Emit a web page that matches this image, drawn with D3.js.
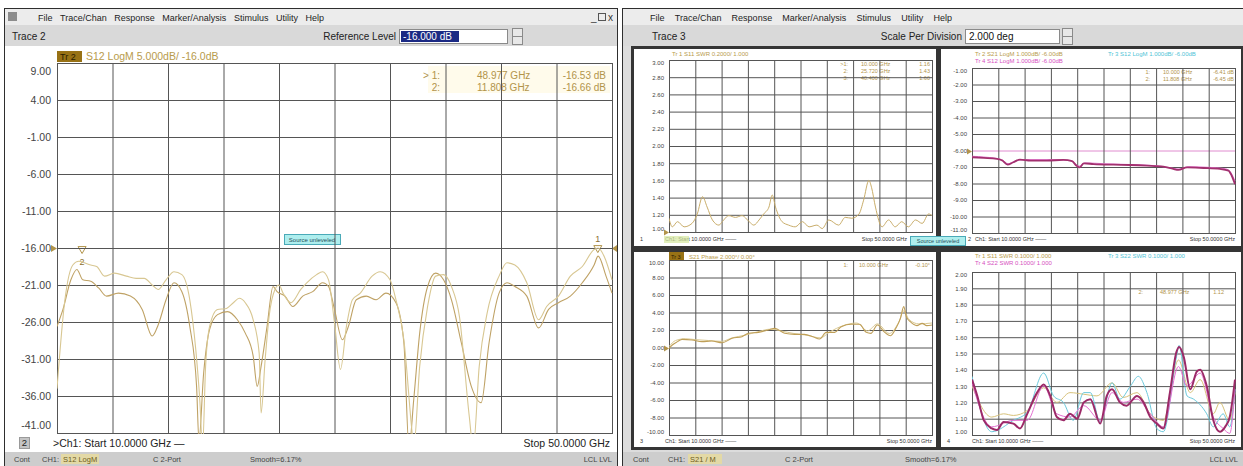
<!DOCTYPE html>
<html>
<head>
<meta charset="utf-8">
<title>VNA screens</title>
<script src="https://cdn.jsdelivr.net/npm/d3@7/dist/d3.min.js"></script>
<style>
  body { margin: 0; background: #ffffff; overflow: hidden; }
</style>
</head>
<body>
<script>
// ---------------- data ----------------
const menuItems = ["File", "Trace/Chan", "Response", "Marker/Analysis", "Stimulus", "Utility", "Help"];
const freqGrid = [10, 14, 18, 22, 26, 30, 34, 38, 42, 46, 50];   // GHz, 4 GHz per division

// left window : S12 LogM 5 dB/div, ref -16 dB, two sweeps [GHz, dB]
const s12Ticks = [9, 4, -1, -6, -11, -16, -21, -26, -31, -36, -41];
const s12SweepA = [[10.0,-35.0],[10.57,-23.0],[11.14,-18.3],[11.57,-17.8],[12.43,-18.3],[12.86,-18.5],[13.43,-19.8],
  [14.14,-19.4],[15.0,-19.8],[15.71,-20.1],[16.29,-20.1],[16.86,-21.0],[17.29,-21.6],[17.86,-20.3],[18.43,-19.2],
  [19.0,-19.6],[19.57,-23.0],[20.0,-29.7],[20.29,-36.5],[20.49,-43.0],[20.71,-32.0],[21.0,-26.6],[21.57,-24.3],
  [22.14,-24.2],[22.71,-23.4],[23.14,-22.8],[23.57,-23.4],[24.14,-25.7],[24.57,-30.2],[24.71,-38.3],[25.0,-31.1],
  [25.29,-25.2],[25.71,-21.6],[26.0,-21.0],[26.29,-22.1],[26.86,-23.4],[27.57,-21.6],[28.0,-20.7],[28.71,-19.6],
  [29.14,-19.2],[29.57,-20.3],[30.0,-26.1],[30.43,-32.4],[30.86,-26.6],[31.29,-23.0],[31.86,-22.1],[32.71,-19.8],
  [33.29,-19.2],[34.0,-20.3],[34.43,-23.0],[35.0,-28.4],[35.57,-40.5],[35.71,-43.0],[36.14,-32.0],[36.71,-23.9],
  [37.29,-19.8],[37.86,-19.6],[38.43,-21.2],[39.0,-25.2],[39.71,-38.7],[40.0,-43.0],[40.43,-32.0],[41.0,-24.8],
  [41.86,-19.8],[42.43,-18.0],[43.0,-18.3],[43.86,-20.7],[44.71,-25.7],[45.29,-23.9],[46.14,-22.5],[47.0,-19.8],
  [47.86,-18.5],[48.71,-16.2],[49.0,-16.0],[49.43,-17.1],[50.0,-20.3]];
const s12SweepB = [[10.0,-26.6],[10.43,-24.3],[11.0,-20.3],[11.43,-18.9],[11.86,-20.3],[12.43,-20.5],[13.0,-21.4],
  [13.57,-22.5],[14.43,-22.1],[15.29,-22.5],[16.14,-24.3],[16.86,-27.9],[17.29,-26.4],[17.86,-23.0],[18.43,-20.7],
  [19.0,-21.9],[19.57,-26.6],[20.06,-34.7],[20.23,-42.0],[20.57,-32.9],[21.0,-27.0],[21.57,-25.0],[22.29,-24.6],
  [23.0,-25.7],[23.57,-27.5],[24.14,-30.6],[24.43,-34.7],[24.71,-32.0],[25.14,-26.6],[25.57,-21.2],[25.86,-21.9],
  [26.43,-22.5],[27.0,-23.9],[27.71,-22.5],[28.43,-21.9],[29.14,-20.7],[29.57,-21.2],[30.0,-24.3],[30.57,-28.4],
  [31.0,-26.6],[31.57,-23.0],[32.29,-22.5],[33.0,-23.0],[33.71,-22.1],[34.43,-23.4],[35.0,-28.8],[35.37,-43.0],
  [35.71,-36.5],[36.14,-27.5],[36.71,-21.2],[37.29,-19.4],[37.86,-20.3],[38.43,-23.0],[39.14,-28.8],[39.86,-34.7],
  [40.57,-36.9],[41.14,-28.8],[41.86,-22.1],[42.43,-20.7],[43.0,-21.2],[43.86,-22.5],[44.71,-26.8],[45.43,-24.3],
  [46.14,-23.4],[47.0,-22.5],[47.86,-20.7],[48.71,-18.3],[49.0,-17.1],[49.57,-19.8],[50.0,-22.1]];
const s12Markers = [
  {id: "1", active: true, freq: 48.977, value: -16.53},
  {id: "2", active: false, freq: 11.808, value: -16.66}
];

// right window, top-left : S11 SWR 0.2/div
const swr11Ticks = [3.0, 2.8, 2.6, 2.4, 2.2, 2.0, 1.8, 1.6, 1.4, 1.2, 1.0];
const swr11Sweep = [[10.0,1.16],[10.5,1.06],[11.3,1.12],[12.3,1.06],[13.5,1.10],[14.3,1.21],[15.1,1.41],[15.8,1.29],
  [16.6,1.14],[17.6,1.08],[18.1,1.12],[19.1,1.19],[20.1,1.17],[21.1,1.19],[22.2,1.12],[22.9,1.08],[23.7,1.14],
  [24.4,1.21],[25.2,1.29],[25.7,1.43],[26.2,1.29],[27.2,1.12],[28.2,1.08],[29.2,1.06],[30.3,1.12],[31.3,1.06],
  [32.5,1.08],[33.3,1.04],[34.3,1.14],[35.8,1.08],[36.8,1.17],[37.8,1.16],[38.9,1.21],[39.6,1.37],[40.4,1.60],
  [40.8,1.52],[41.4,1.29],[42.4,1.06],[43.4,1.14],[44.4,1.06],[45.4,1.12],[46.4,1.06],[47.5,1.14],[48.5,1.10],
  [49.5,1.21],[50.0,1.19]];
const swr11Rows = [[">1:", "10.000 GHz", "1.16"], ["2:", "25.720 GHz", "1.43"], ["3:", "40.400 GHz", "1.60"]];

// right window, top-right : S21 / S12 LogM 1 dB/div, ref -6 dB
const s21Ticks = [-1, -2, -3, -4, -5, -6, -7, -8, -9, -10, -11];
const s21Sweep = [[10.0,-6.41],[11.8,-6.45],[13.8,-6.51],[14.6,-6.61],[15.4,-6.86],[16.3,-6.71],[17.3,-6.55],
  [18.9,-6.61],[21.4,-6.61],[23.9,-6.57],[25.2,-6.65],[25.9,-6.92],[26.4,-7.02],[27.0,-6.78],[28.5,-6.82],
  [31.5,-6.86],[34.1,-6.88],[36.6,-6.92],[39.1,-6.98],[40.6,-7.12],[41.4,-7.18],[42.7,-7.02],[45.2,-7.06],
  [47.7,-7.12],[49.0,-7.22],[49.5,-7.53],[50.0,-8.04]];
const s12Sweep = [[10.0,-6.35],[12.0,-6.40],[14.5,-6.55],[15.5,-6.80],[16.5,-6.65],[18.0,-6.55],[22.0,-6.55],
  [25.0,-6.60],[26.3,-6.95],[27.2,-6.75],[30.0,-6.80],[34.0,-6.85],[38.0,-6.92],[40.6,-7.08],[41.5,-7.12],
  [43.0,-6.98],[46.0,-7.02],[48.5,-7.10],[49.4,-7.35],[50.0,-7.85]];
const s21Rows = [["1:", "10.000 GHz", "-6.41 dB"], ["2:", "11.808 GHz", "-6.45 dB"]];

// right window, bottom-left : S21 Phase 2 deg/div, ref 0
const phaseTicks = [10, 8, 6, 4, 2, 0, -2, -4, -6, -8, -10];
const phaseSweepA = [[10.0,-0.10],[10.5,0.29],[11.3,0.67],[12.0,0.93],[13.5,0.86],[15.0,0.67],[16.5,0.74],
  [18.1,0.55],[19.6,1.05],[21.1,1.24],[22.1,1.62],[23.6,1.73],[25.1,2.00],[26.1,2.19],[27.6,1.62],[29.1,1.50],
  [30.6,1.50],[31.9,1.24],[32.9,0.97],[33.9,1.73],[35.2,1.73],[36.2,2.38],[37.7,2.65],[39.0,2.65],[40.0,1.73],
  [40.7,1.62],[41.7,2.57],[42.7,1.81],[43.7,1.35],[44.5,2.19],[45.2,3.33],[45.7,4.67],[46.1,3.52],[46.7,2.95],
  [47.7,2.50],[48.5,2.76],[49.2,2.50],[50.0,2.57]];
const phaseSweepB = [[10.0,0.10],[11.0,0.80],[12.5,1.00],[14.0,0.90],[16.0,0.80],[18.0,0.70],[19.6,1.10],
  [21.5,1.40],[23.5,1.80],[25.5,2.10],[27.0,1.90],[29.0,1.60],[31.0,1.40],[33.0,1.10],[34.5,1.80],[36.5,2.50],
  [38.5,2.80],[40.2,1.90],[41.7,2.70],[43.5,1.60],[45.0,3.00],[45.7,4.20],[46.5,3.20],[48.0,2.70],[50.0,2.80]];
const phaseRows = [["1:", "10.000 GHz", "-0.10°"]];

// right window, bottom-right : S11 / S22 SWR 0.1/div
const swr22Ticks = [2.0, 1.9, 1.8, 1.7, 1.6, 1.5, 1.4, 1.3, 1.2, 1.1, 1.0];
const swr22Magenta = [[10.0,1.34],[10.8,1.24],[11.8,1.09],[13.0,1.04],[13.8,1.03],[14.8,1.08],[16.3,1.07],
  [17.3,1.04],[18.4,1.13],[19.9,1.26],[20.9,1.31],[21.9,1.24],[22.9,1.11],[23.9,1.09],[24.9,1.13],[26.0,1.10],
  [27.0,1.20],[28.0,1.22],[29.5,1.07],[30.5,1.24],[31.3,1.28],[32.5,1.20],[33.5,1.18],[35.1,1.24],[36.1,1.20],
  [37.1,1.11],[38.1,1.07],[39.1,1.04],[40.1,1.26],[41.1,1.51],[41.5,1.54],[42.2,1.48],[43.2,1.28],[44.2,1.39],
  [44.7,1.40],[45.7,1.30],[46.7,1.09],[47.7,1.02],[48.5,1.05],[49.2,1.11],[50.0,1.34]];
const swr22Cyan = [[10.0,1.36],[13.0,1.02],[16.3,1.09],[18.4,1.14],[20.9,1.38],[22.4,1.24],[23.9,1.20],[25.4,1.09],
  [27.0,1.26],[28.0,1.26],[29.5,1.08],[31.3,1.32],[32.5,1.22],[34.1,1.30],[35.3,1.36],[36.6,1.26],[38.1,1.04],
  [39.1,1.02],[41.1,1.48],[41.5,1.55],[42.7,1.24],[43.7,1.22],[45.7,1.13],[46.7,1.05],[48.2,1.13],[49.2,1.05],
  [50.0,1.28]];
const swr22Pink = [[10.0,1.32],[13.0,1.05],[16.3,1.09],[18.4,1.09],[20.9,1.30],[22.9,1.13],[24.9,1.11],[27.0,1.18],
  [29.5,1.09],[31.3,1.26],[33.0,1.20],[35.1,1.22],[37.1,1.13],[39.1,1.05],[41.4,1.42],[42.7,1.30],[44.7,1.38],
  [46.7,1.11],[48.2,1.04],[49.2,1.01],[50.0,1.28]];
const swr22Tan = [[10.0,1.30],[13.0,1.11],[14.8,1.13],[16.3,1.12],[18.4,1.15],[20.9,1.29],[22.9,1.20],[24.9,1.26],
  [27.0,1.25],[29.0,1.24],[31.3,1.32],[33.0,1.23],[35.1,1.26],[37.1,1.13],[39.1,1.09],[41.4,1.46],[43.2,1.26],
  [44.7,1.34],[46.7,1.13],[47.7,1.20],[49.2,1.09],[50.0,1.26]];
const swr22Rows = [["2:", "48.977 GHz", "1.12"]];

// ---------------- drawing ----------------
const FONT = "'Liberation Sans', Arial, sans-serif";
const TAN = "#b2944a";
const GRID = "#555555";

const svg = d3.select("body").append("svg")
  .attr("width", 1243).attr("height", 466)
  .attr("font-family", FONT);

function label(g, x, y, s, size, color, anchor) {
  return g.append("text")
    .attr("x", x).attr("y", y)
    .attr("font-size", size)
    .attr("fill", color || "#222")
    .attr("text-anchor", anchor || "start")
    .text(s);
}

// window frame with menu bar, tool bar and status bar
function drawWindow(x0, w, menuStart, menuEnd) {
  const g = svg.append("g");
  g.append("rect").attr("x", x0 + 0.5).attr("y", 8.5).attr("width", w).attr("height", 458)
    .attr("fill", "#ffffff").attr("stroke", "#2e2e2e");
  g.append("rect").attr("x", x0 + 1).attr("y", 9).attr("width", w - 1).attr("height", 16).attr("fill", "#ececec");
  g.append("rect").attr("x", x0 + 1).attr("y", 25).attr("width", w - 1).attr("height", 21).attr("fill", "#d9d9d9");
  g.append("rect").attr("x", x0 + 1).attr("y", 452).attr("width", w - 1).attr("height", 14).attr("fill", "#cdcdcd");

  // spread the menu words evenly between the two ends
  const items = menuItems.map(m => label(g, 0, 21, m, 9, "#1e1e1e"));
  const widths = items.map(t => t.node().getComputedTextLength());
  const gap = (menuEnd - menuStart - d3.sum(widths)) / (menuItems.length - 1);
  let cx = menuStart;
  items.forEach((t, i) => { t.attr("x", cx); cx += widths[i] + gap; });
  return g;
}

function spinner(g, x, y) {
  g.append("rect").attr("x", x + 0.5).attr("y", y + 0.5).attr("width", 10).attr("height", 16)
    .attr("fill", "#e8e8e8").attr("stroke", "#8a8a8a");
  g.append("line").attr("x1", x + 1).attr("x2", x + 10).attr("y1", y + 8.5).attr("y2", y + 8.5).attr("stroke", "#8a8a8a");
}

// one measurement grid (10 x 10 divisions) with its traces
function drawPlot(p) {
  const x = d3.scaleLinear().domain([10, 50]).range([p.x0, p.x1]);
  const y = d3.scaleLinear().domain(d3.extent(p.ticks)).range([p.y1, p.y0]);
  const g = svg.append("g");
  const top = d3.max(p.ticks), bottom = d3.min(p.ticks);

  const gy = g.append("g")
    .attr("transform", "translate(" + p.x0 + ",0)")
    .call(d3.axisLeft(y).tickValues(p.ticks).tickSize(-(p.x1 - p.x0)).tickPadding(p.pad)
      .tickFormat(d => d.toFixed(2)));
  gy.attr("font-family", FONT).attr("font-size", p.fs);
  gy.select(".domain").remove();
  gy.selectAll(".tick line").attr("stroke", GRID);
  gy.selectAll(".tick text").attr("fill", "#444")
    .attr("y", d => d === top ? p.edge : (d === bottom ? -p.edge : 0));
  if (p.refLine !== undefined) {
    gy.selectAll(".tick line").filter(d => d === p.refLine).attr("stroke", p.refColor);
  }

  const gx = g.append("g")
    .attr("transform", "translate(0," + p.y1 + ")")
    .call(d3.axisBottom(x).tickValues(freqGrid).tickSize(-(p.y1 - p.y0)).tickFormat(""));
  gx.select(".domain").remove();
  gx.selectAll(".tick line").attr("stroke", GRID);

  g.append("rect").attr("x", p.x0 + 0.5).attr("y", p.y0 + 0.5)
    .attr("width", p.x1 - p.x0).attr("height", p.y1 - p.y0)
    .attr("fill", "none").attr("stroke", GRID);

  g.append("clipPath").attr("id", "clip-" + p.id)
    .append("rect").attr("x", p.x0).attr("y", p.y0 - 1)
    .attr("width", p.x1 - p.x0 + 1).attr("height", p.y1 - p.y0 + 2);

  const line = d3.line()
    .x(d => x(d[0]))
    .y(d => y(d[1]))
    .curve(d3.curveMonotoneX);

  p.traces.forEach(t => {
    g.append("path").datum(t.data)
      .attr("d", line)
      .attr("fill", "none")
      .attr("stroke", t.color)
      .attr("stroke-width", t.width)
      .attr("stroke-linejoin", "round")
      .attr("clip-path", "url(#clip-" + p.id + ")");
  });

  // little reference arrow on the axis
  if (p.refArrow !== undefined) {
    const ry = Math.round(y(p.refArrow)) + 0.5;
    g.append("path").attr("d", `M${p.x0 - 5},${ry - 3}L${p.x0},${ry}L${p.x0 - 5},${ry + 3}Z`).attr("fill", TAN);
  }
  return {g: g, x: x, y: y};
}

// marker readout rows (small right-hand table)
function markerTable(g, rows, xs, y0, dy, size, color) {
  rows.forEach((r, i) => {
    label(g, xs[0], y0 + i * dy, r[0], size, color, "end");
    label(g, xs[1], y0 + i * dy, r[1], size, color, "start");
    label(g, xs[2], y0 + i * dy, r[2], size, color, "end");
  });
}

// ================= left window =================
const left = drawWindow(4, 613, 38, 324);
left.append("rect").attr("x", 8).attr("y", 12).attr("width", 9).attr("height", 9).attr("fill", "#8c8c8c");
label(left, 591, 21, "_", 10, "#333");
left.append("rect").attr("x", 598.5).attr("y", 13.5).attr("width", 7).attr("height", 7).attr("fill", "none").attr("stroke", "#555");
label(left, 608, 21, "x", 10, "#333");

label(left, 12, 40, "Trace 2", 10, "#222");
label(left, 396, 40, "Reference Level", 10, "#222", "end");
left.append("rect").attr("x", 399.5).attr("y", 29.5).attr("width", 108).attr("height", 14)
  .attr("fill", "#ffffff").attr("stroke", "#8a8a8a");
left.append("rect").attr("x", 401).attr("y", 31).attr("width", 58).attr("height", 11).attr("fill", "#1b2a84");
label(left, 403, 40, "-16.000 dB", 10, "#ffffff");
spinner(left, 512, 28);

// marker readout backdrop, kept faint so the grid shows through
left.append("rect").attr("x", 428).attr("y", 66).attr("width", 182).attr("height", 27).attr("fill", "#fffbeb");

// S12 LogM plot
const lp = drawPlot({
  id: "s12", x0: 57, x1: 612, y0: 63, y1: 433, ticks: s12Ticks, fs: 10.5, pad: 6, edge: 8,
  traces: [
    {data: s12SweepB, color: "#bfa265", width: 1.1},
    {data: s12SweepA, color: "#d8c792", width: 1.1}
  ]
});
// reference arrows at -16 dB
const refY = Math.round(lp.y(-16)) + 0.5;
left.append("path").attr("d", `M51,${refY - 3.5}L57,${refY}L51,${refY + 3.5}Z`).attr("fill", TAN);
left.append("path").attr("d", `M617,${refY - 3.5}L612,${refY}L617,${refY + 3.5}Z`).attr("fill", TAN);

// title line
left.append("rect").attr("x", 57).attr("y", 51).attr("width", 25).attr("height", 11).attr("fill", "#987215");
label(left, 60, 60, "Tr 2", 9, "#2a1d00");
label(left, 86, 60, "S12 LogM 5.000dB/  -16.0dB", 10.5, "#b89b4c");

markerTable(left, s12Markers.map(m => [(m.active ? "> " : "") + m.id + ":", m.freq.toFixed(3) + " GHz", m.value.toFixed(2) + " dB"]),
  [440, 477, 606], 79, 12, 10, "#b2944a");

// markers on the trace
s12Markers.forEach(m => {
  const mx = lp.x(m.freq), my = lp.y(m.value);
  left.append("path")
    .attr("d", d3.symbol(d3.symbolTriangle, 28))
    .attr("transform", `translate(${mx},${my - 4}) rotate(180)`)
    .attr("fill", "none").attr("stroke", "#b2944a");
  label(left, mx, m.id === "1" ? my - 10 : my + 12, m.id, 9, "#8c7030", "middle");
});

// "Source unleveled" flag
left.append("rect").attr("x", 284.5).attr("y", 234.5).attr("width", 56).attr("height", 10)
  .attr("fill", "#aeeeee").attr("stroke", "#4aaab8");
label(left, 312, 242, "Source unleveled", 6, "#25505a", "middle");

// sweep range line
left.append("rect").attr("x", 19.5).attr("y", 437.5).attr("width", 10).attr("height", 11).attr("fill", "#c4c4c4").attr("stroke", "#9a9a9a");
label(left, 24.5, 446, "2", 9.5, "#222", "middle");
label(left, 53, 447, ">Ch1: Start 10.0000 GHz \u2014", 10.5, "#222");
label(left, 610, 447, "Stop 50.0000 GHz", 10.5, "#222", "end");

// status bar
label(left, 14, 462, "Cont", 7.5, "#444");
label(left, 42, 462, "CH1:", 7.5, "#444");
left.append("rect").attr("x", 61).attr("y", 454).attr("width", 38).attr("height", 10).attr("fill", "#e3d9a6");
label(left, 63, 462, "S12 LogM", 7.5, "#6d5c20");
label(left, 153, 462, "C  2-Port", 7.5, "#444");
label(left, 250, 462, "Smooth=6.17%", 7.5, "#444");
label(left, 612, 462, "LCL   LVL", 7.5, "#444", "end");

// ================= right window =================
const right = drawWindow(622, 621, 650, 952);
label(right, 652, 40, "Trace 3", 10, "#222");
label(right, 962, 40, "Scale Per Division", 10, "#222", "end");
right.append("rect").attr("x", 965.5).attr("y", 29.5).attr("width", 94).attr("height", 14)
  .attr("fill", "#ffffff").attr("stroke", "#8a8a8a");
label(right, 969, 40, "2.000 deg", 10, "#111");
spinner(right, 1062, 28);

// panel frame
right.append("rect").attr("x", 623).attr("y", 46).attr("width", 620).attr("height", 406).attr("fill", "#dcdcdc");
right.append("rect").attr("x", 631).attr("y", 46).attr("width", 612).attr("height", 404).attr("fill", "#353535");
const panels = [[634, 49, 302, 197], [941, 49, 300, 197], [634, 252, 302, 195], [941, 252, 300, 195]];
panels.forEach(b => right.append("rect").attr("x", b[0]).attr("y", b[1]).attr("width", b[2]).attr("height", b[3]).attr("fill", "#ffffff"));

// top-left : S11 SWR
drawPlot({
  id: "swr11", x0: 669, x1: 932, y0: 60, y1: 232, ticks: swr11Ticks, fs: 6, pad: 5, edge: 3,
  refArrow: 1.0,
  traces: [{data: swr11Sweep, color: "#c9ad6a", width: 1}]
});
label(right, 672, 56, "Tr 1  S11 SWR 0.2000/  1.000", 6, "#b89b4c");
markerTable(right, swr11Rows, [848, 861, 930], 66, 7, 5.5, "#b2944a");

// top-right : S21 / S12 LogM
drawPlot({
  id: "s21", x0: 972, x1: 1235, y0: 68, y1: 233, ticks: s21Ticks, fs: 6, pad: 5, edge: 3,
  refLine: -6, refColor: "#e08ccf", refArrow: -6,
  traces: [
    {data: s12Sweep, color: "#e47ad0", width: 1},
    {data: s21Sweep, color: "#a2306f", width: 1.8}
  ]
});
label(right, 975, 56, "Tr 2  S21 LogM 1.000dB/  -6.00dB", 6, "#b89b4c");
label(right, 975, 63, "Tr 4  S12 LogM 1.000dB/  -6.00dB", 6, "#d64fc0");
label(right, 1108, 56, "Tr 3  S12 LogM 1.000dB/  -6.00dB", 6, "#4fc3d6");
markerTable(right, s21Rows, [1150, 1163, 1234], 74, 7, 5.5, "#b2944a");

// bottom-left : S21 phase
drawPlot({
  id: "phase", x0: 669, x1: 932, y0: 260, y1: 435, ticks: phaseTicks, fs: 6, pad: 5, edge: 3,
  refArrow: 0,
  traces: [
    {data: phaseSweepB, color: "#d9c892", width: 1},
    {data: phaseSweepA, color: "#bf9f58", width: 1.1}
  ]
});
right.append("rect").attr("x", 669).attr("y", 252).attr("width", 15).attr("height", 8).attr("fill", "#987215");
label(right, 671, 258.5, "Tr 3", 5.5, "#2a1d00");
label(right, 689, 258.5, "S21 Phase 2.000\u00b0/  0.00\u00b0", 6, "#b89b4c");
markerTable(right, phaseRows, [848, 859, 930], 267, 7, 5.5, "#b2944a");

// bottom-right : S11 / S22 SWR
drawPlot({
  id: "swr22", x0: 972, x1: 1235, y0: 272, y1: 435, ticks: swr22Ticks, fs: 6, pad: 5, edge: 3,
  traces: [
    {data: swr22Tan, color: "#d8c27a", width: 1},
    {data: swr22Cyan, color: "#6cc9dc", width: 1},
    {data: swr22Pink, color: "#e46fd2", width: 1},
    {data: swr22Magenta, color: "#9c2a68", width: 2}
  ]
});
label(right, 975, 258, "Tr 1  S11 SWR 0.1000/  1.000", 6, "#b89b4c");
label(right, 975, 265, "Tr 4  S22 SWR 0.1000/  1.000", 6, "#d64fc0");
label(right, 1108, 258, "Tr 3  S22 SWR 0.1000/  1.000", 6, "#4fc3d6");
markerTable(right, swr22Rows, [1143, 1160, 1224], 294, 7, 5.5, "#b2944a");

// panel bottom lines: [number x, start x, stop x (right end), baseline, number]
[[640, 665, 907, 241, "1"], [968, 975, 1235, 241, "2"], [640, 665, 932, 443, "3"], [947, 972, 1235, 443, "4"]].forEach(b => {
  label(right, b[0], b[3], b[4], 5.5, "#333");
  label(right, b[1], b[3], "Ch1: Start 10.0000 GHz \u2014\u2014", 5.5, "#333");
  label(right, b[2], b[3], "Stop 50.0000 GHz", 5.5, "#333", "end");
});
right.append("rect").attr("x", 664).attr("y", 236).attr("width", 25).attr("height", 7).attr("fill", "#d5e8a0").attr("opacity", 0.7);

// "Source unleveled" flag across the panel gap
right.append("rect").attr("x", 910.5).attr("y", 236.5).attr("width", 55).attr("height", 9)
  .attr("fill", "#aeeeee").attr("stroke", "#4aaab8");
label(right, 938, 243, "Source unleveled", 5.5, "#25505a", "middle");

// status bar
label(right, 633, 462, "Cont", 7.5, "#444");
label(right, 668, 462, "CH1:", 7.5, "#444");
right.append("rect").attr("x", 688).attr("y", 454).attr("width", 34).attr("height", 10).attr("fill", "#e3d9a6");
label(right, 690, 462, "S21 / M", 7.5, "#6d5c20");
label(right, 785, 462, "C  2-Port", 7.5, "#444");
label(right, 905, 462, "Smooth=6.17%", 7.5, "#444");
label(right, 1238, 462, "LCL   LVL", 7.5, "#444", "end");
</script>
</body>
</html>
